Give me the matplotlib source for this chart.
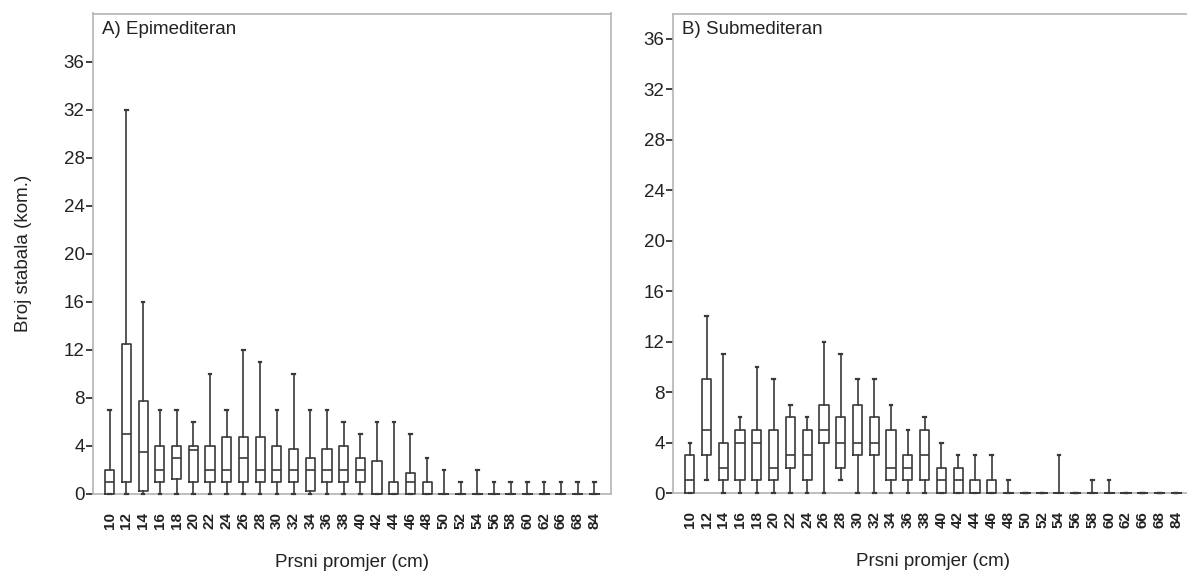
import matplotlib
matplotlib.use("Agg")
import matplotlib.pyplot as plt

plt.rcParams['font.family'] = ['Liberation Sans', 'DejaVu Sans']

categories = ["10", "12", "14", "16", "18", "20", "22", "24", "26", "28", "30", "32",
              "34", "36", "38", "40", "42", "44", "46", "48", "50", "52", "54", "56",
              "58", "60", "62", "66", "68", "84"]

# Panel A) Epimediteran
a_whislo = [0, 0, 0, 0, 0, 0, 0, 0, 0, 0, 0, 0, 0, 0, 0, 0, 0, 0, 0, 0, 0, 0, 0, 0, 0, 0, 0, 0, 0, 0]
a_q1     = [0, 1, 0.25, 1, 1.25, 1, 1, 1, 1, 1, 1, 1, 0.25, 1, 1, 1, 0, 0, 0, 0, 0, 0, 0, 0, 0, 0, 0, 0, 0, 0]
a_med    = [1, 5, 3.5, 2, 3, 3.7, 2, 2, 3, 2, 2, 2, 2, 2, 2, 2, 0, 0, 1, 0, 0, 0, 0, 0, 0, 0, 0, 0, 0, 0]
a_q3     = [2, 12.5, 7.75, 4, 4, 4, 4, 4.75, 4.75, 4.75, 4, 3.75, 3, 3.75, 4, 3, 2.75, 1, 1.75, 1, 0, 0, 0, 0, 0, 0, 0, 0, 0, 0]
a_whishi = [7, 32, 16, 7, 7, 6, 10, 7, 12, 11, 7, 10, 7, 7, 6, 5, 6, 6, 5, 3, 2, 1, 2, 1, 1, 1, 1, 1, 1, 1]

# Panel B) Submediteran
b_whislo = [0, 1, 0, 0, 0, 0, 0, 0, 0, 1, 0, 0, 0, 0, 0, 0, 0, 0, 0, 0, 0, 0, 0, 0, 0, 0, 0, 0, 0, 0]
b_q1     = [0, 3, 1, 1, 1, 1, 2, 1, 4, 2, 3, 3, 1, 1, 1, 0, 0, 0, 0, 0, 0, 0, 0, 0, 0, 0, 0, 0, 0, 0]
b_med    = [1, 5, 2, 4, 4, 2, 3, 3, 5, 4, 4, 4, 2, 2, 3, 1, 1, 0, 0, 0, 0, 0, 0, 0, 0, 0, 0, 0, 0, 0]
b_q3     = [3, 9, 4, 5, 5, 5, 6, 5, 7, 6, 7, 6, 5, 3, 5, 2, 2, 1, 1, 0, 0, 0, 0, 0, 0, 0, 0, 0, 0, 0]
b_whishi = [4, 14, 11, 6, 10, 9, 7, 6, 12, 11, 9, 9, 7, 5, 6, 4, 3, 3, 3, 1, 0, 0, 3, 0, 1, 1, 0, 0, 0, 0]

yticks = [0, 4, 8, 12, 16, 20, 24, 28, 32, 36]

W, H = 1187, 571
fig = plt.figure(figsize=(W / 100, H / 100), dpi=100)

def px_axes(l, r, t, b):
    return fig.add_axes([l / W, 1 - b / H, (r - l) / W, (b - t) / H])

axA = px_axes(93, 611, 13.5, 494)
axB = px_axes(673, 1193, 13.5, 493)

line_col = '#3a3a3a'
spine_col = '#b4b4b4'

def draw(ax, lo, q1, med, q3, hi, ytop, title, ylabel):
    stats = []
    for i, c in enumerate(categories):
        stats.append(dict(label=c, whislo=lo[i], q1=q1[i], med=med[i],
                          q3=q3[i], whishi=hi[i], fliers=[]))
    pos = list(range(1, len(categories) + 1))
    lp = dict(color=line_col, linewidth=1.2)
    res = ax.bxp(stats, positions=pos, widths=0.55, showfliers=False,
                 boxprops=lp, whiskerprops=lp, capprops=dict(color=line_col, linewidth=1.6),
                 medianprops=dict(color=line_col, linewidth=1.2),
                 capwidths=0.15, manage_ticks=False)
    for key in ('boxes', 'medians', 'whiskers', 'caps'):
        for art in res[key]:
            art.set_zorder(3)
            art.set_clip_on(False)
    ax.set_xlim(0, len(categories) + 1)
    ax.set_ylim(0, ytop)
    ax.set_xticks(pos)
    ax.set_xticklabels(categories, rotation=90, fontsize=11, fontweight='bold',
                       color='#222222')
    ax.set_yticks(yticks)
    ax.set_yticklabels([str(v) for v in yticks], fontsize=13.5, color='#222222')
    ax.tick_params(axis='x', length=0, pad=13)
    ax.tick_params(axis='y', length=5, width=1.3, color='#333333', pad=1, direction='out')
    for s in ax.spines.values():
        s.set_color(spine_col)
        s.set_linewidth(1.2)
        s.set_zorder(2)
    ax.text(0.017, 0.985, title, transform=ax.transAxes, ha='left', va='top',
            fontsize=13.5, color='#222222')
    ax.set_xlabel('Prsni promjer (cm)', fontsize=13.5, color='#222222', labelpad=18)
    if ylabel:
        ax.set_ylabel(ylabel, fontsize=13.5, color='#222222', labelpad=23)

draw(axA, a_whislo, a_q1, a_med, a_q3, a_whishi, 40, 'A) Epimediteran', 'Broj stabala (kom.)')
draw(axB, b_whislo, b_q1, b_med, b_q3, b_whishi, 38, 'B) Submediteran', None)

fig.savefig('out.png', dpi=100)
